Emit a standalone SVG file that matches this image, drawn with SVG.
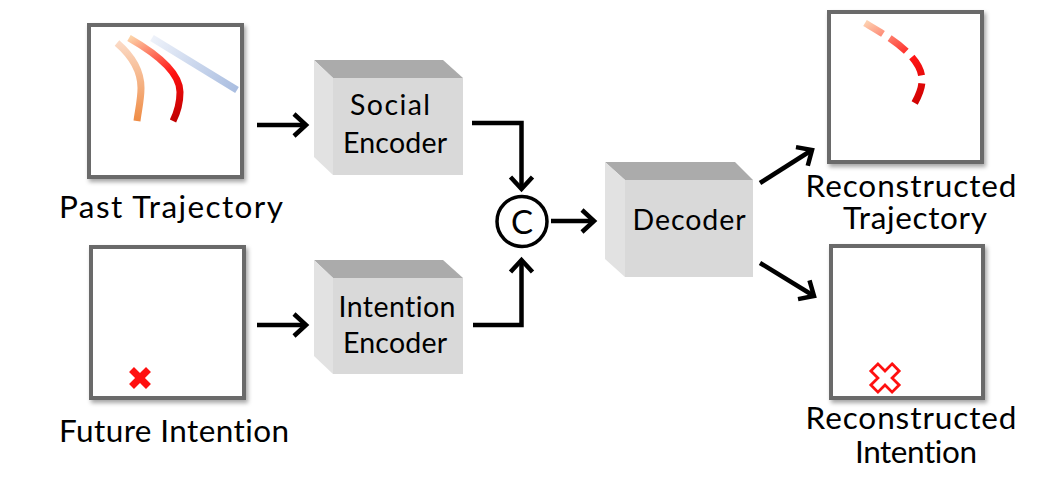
<svg xmlns="http://www.w3.org/2000/svg" width="1043" height="480" viewBox="0 0 1043 480">
<style>
text{font-variant-ligatures:none;font-feature-settings:"liga" 0,"clig" 0}
.lbl{font-family:Lato,"Liberation Sans",sans-serif;font-size:31.5px;fill:#000;text-anchor:middle}
.enc{font-family:Lato,"Liberation Sans",sans-serif;font-size:28.5px;fill:#000;text-anchor:middle}
.frame{fill:#fff;stroke:#6b6b6b;stroke-width:4;filter:url(#sh)}
.front{fill:#d9d9d9}
.top{fill:#ababab}
.side{fill:#e2e2e2}
.conn{fill:none;stroke:#000;stroke-width:4.5;marker-end:url(#ah)}
</style>
<defs>
<filter id="sh" x="-10%" y="-10%" width="125%" height="125%">
<feDropShadow dx="2" dy="3" stdDeviation="2" flood-color="#000" flood-opacity="0.35"/>
</filter>
<marker id="ah" markerUnits="userSpaceOnUse" viewBox="-20 -20 30 40" refX="0" refY="0" markerWidth="30" markerHeight="40" orient="auto" overflow="visible">
<path d="M-12,-11 L0,0 L-12,11" fill="none" stroke="#000" stroke-width="4.5" stroke-linecap="butt" stroke-linejoin="miter"/>
</marker>
<linearGradient id="gOr" gradientUnits="userSpaceOnUse" x1="0" y1="43" x2="0" y2="121">
<stop offset="0" stop-color="#fbd9c4"/><stop offset="1" stop-color="#ef8c45"/>
</linearGradient>
<linearGradient id="gRd" gradientUnits="userSpaceOnUse" x1="129" y1="38" x2="175" y2="121">
<stop offset="0" stop-color="#fcd3a8"/><stop offset="0.55" stop-color="#ff1010"/><stop offset="1" stop-color="#c00000"/>
</linearGradient>
<linearGradient id="gBl" gradientUnits="userSpaceOnUse" x1="152" y1="38" x2="237" y2="90">
<stop offset="0" stop-color="#eef2fa"/><stop offset="1" stop-color="#a9bde0"/>
</linearGradient>
<linearGradient id="gRc" gradientUnits="userSpaceOnUse" x1="865" y1="23" x2="915" y2="108">
<stop offset="0" stop-color="#fdd0b0"/><stop offset="0.55" stop-color="#ff1515"/><stop offset="1" stop-color="#cc0000"/>
</linearGradient>
</defs>

<g id="past-trajectory">
<rect class="frame" x="89" y="25" width="153" height="152"/>
<path d="M117,43 C132,56 141,70 141,88 C141,100 138,112 137,121" fill="none" stroke="url(#gOr)" stroke-width="7"/>
<path d="M152,38 L237,90" fill="none" stroke="url(#gBl)" stroke-width="7"/>
<path d="M129,38 C150,50 180,70 180,92 C180,105 176,115 173,121" fill="none" stroke="url(#gRd)" stroke-width="7"/>
<text class="lbl" x="171" y="218" textLength="224">Past Trajectory</text>
</g>

<g id="future-intention">
<rect class="frame" x="91" y="247" width="153" height="151"/>
<polygon transform="translate(140,378) rotate(45)" points="-3.5,-12 3.5,-12 3.5,-3.5 12,-3.5 12,3.5 3.5,3.5 3.5,12 -3.5,12 -3.5,3.5 -12,3.5 -12,-3.5 -3.5,-3.5" fill="#ff1010"/>
<text class="lbl" x="174" y="442" textLength="230">Future Intention</text>
</g>

<g id="social-encoder">
<polygon class="top" points="314,60 443,60 463,78 333,78"/>
<polygon class="side" points="314,60 333,78 333,175 314,157"/>
<rect class="front" x="333" y="78" width="130" height="97"/>
<text class="enc" x="390" y="115" textLength="80">Social</text>
<text class="enc" x="395" y="153" textLength="104">Encoder</text>
</g>

<g id="intention-encoder">
<polygon class="top" points="314,260 443,260 463,278 333,278"/>
<polygon class="side" points="314,260 333,278 333,374 314,356"/>
<rect class="front" x="333" y="278" width="130" height="96"/>
<text class="enc" x="397" y="317" textLength="117">Intention</text>
<text class="enc" x="395" y="353" textLength="104">Encoder</text>
</g>

<g id="concat">
<circle cx="522" cy="221.5" r="25" fill="#fff" stroke="#000" stroke-width="3.5"/>
<text x="522" y="234" font-family="Lato,'Liberation Sans',sans-serif" font-size="33" text-anchor="middle" fill="#000">C</text>
</g>

<g id="decoder">
<polygon class="top" points="605,162 735,162 753,180 625,180"/>
<polygon class="side" points="605,162 625,180 625,277 605,259"/>
<rect class="front" x="625" y="180" width="128" height="97"/>
<text class="enc" x="689" y="230" textLength="113">Decoder</text>
</g>

<g id="reconstructed-trajectory">
<rect class="frame" x="829" y="12" width="153" height="150"/>
<path d="M865,23 C885,35 922,55 922,80 C922,92 916,100 912,108" fill="none" stroke="url(#gRc)" stroke-width="7" stroke-dasharray="21 8"/>
<text class="lbl" x="911" y="197" textLength="211">Reconstructed</text>
<text class="lbl" x="915" y="229" textLength="144">Trajectory</text>
</g>

<g id="reconstructed-intention">
<rect class="frame" x="831" y="246" width="152" height="152"/>
<polygon transform="translate(885,378) rotate(45)" points="-5,-15 5,-15 5,-5 15,-5 15,5 5,5 5,15 -5,15 -5,5 -15,5 -15,-5 -5,-5" fill="#fff" stroke="#ff1010" stroke-width="2.8" stroke-linejoin="miter"/>
<text class="lbl" x="911" y="429" textLength="211">Reconstructed</text>
<text class="lbl" x="916" y="463" textLength="122">Intention</text>
</g>

<g id="connectors">
<path class="conn" d="M257,125 H306"/>
<path class="conn" d="M257,325 H306"/>
<path class="conn" d="M472,123 H521.5 V189"/>
<path class="conn" d="M473,325 H521.5 V260"/>
<path class="conn" d="M551,221 H594"/>
<path class="conn" d="M760,183 L812,150"/>
<path class="conn" d="M760,263 L814,296"/>
</g>
</svg>
